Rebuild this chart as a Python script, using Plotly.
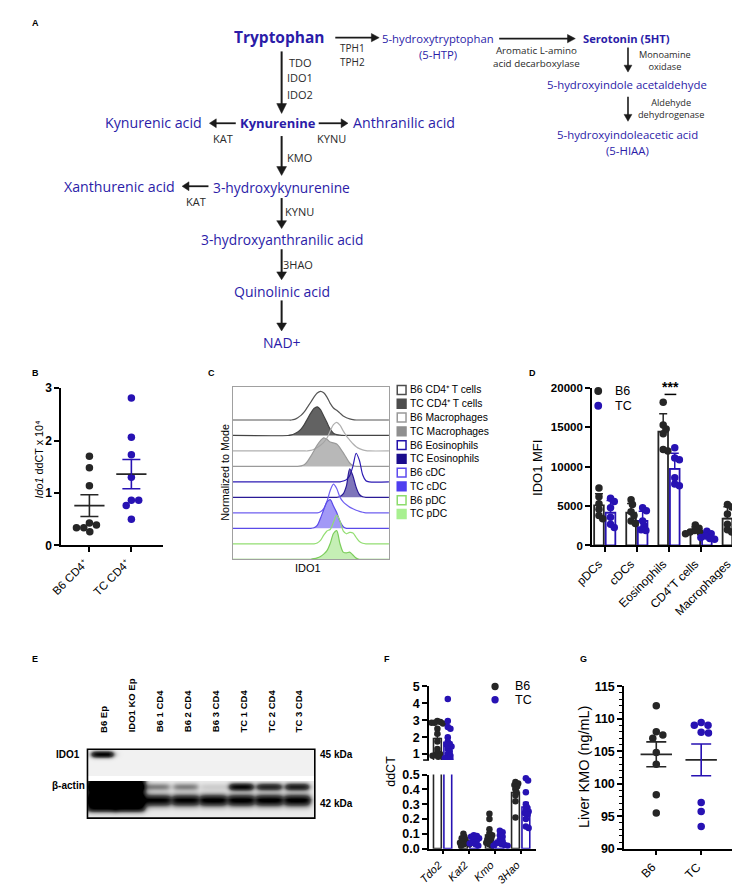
import numpy as np
import plotly.graph_objects as go

W, H = 740, 887
FONT = "Liberation Sans"
PFONT = "Open Sans"
BLK = "#262626"
BLU = "#2712b3"
PBLU = "#2b1ca8"
LBL = "#2a2a2a"

# ---------------- data ----------------
# Panel B : Ido1 ddCT x 10^4
b_groups = ["B6 CD4⁺", "TC CD4⁺"]
b_b6 = [1.70, 1.48, 1.14, 0.43, 0.39, 0.34, 0.34, 0.26]
b_tc = [2.81, 2.06, 1.73, 1.30, 0.86, 0.86, 0.76, 0.50]

# Panel C : IDO1 histograms (% of mode) on a shared IDO1 grid
c_ido1 = [0, 170, 180, 190, 200, 210, 220, 230, 240, 250, 260, 270, 280, 290,
          300, 310, 320, 330, 340, 350, 360, 370, 380, 390, 400, 410, 420, 481]
c_labels = ["B6 CD4⁺ T cells", "TC CD4⁺ T cells", "B6 Macrophages",
            "TC Macrophages", "B6 Eosinophils", "TC Eosinophils", "B6 cDC", "TC cDC",
            "B6 pDC", "TC pDC"]
c_b6_cd4 = [0, 0, 0, 2, 8, 16, 28, 45, 62, 80, 94, 100, 95, 80, 58, 42, 34, 24, 14, 8, 4, 1, 0, 0, 0, 0, 0, 0]
c_tc_cd4 = [0, 0, 2, 6, 12, 22, 38, 58, 78, 94, 100, 90, 68, 45, 22, 8, 3, 1, 0, 0, 0, 0, 0, 0, 0, 0, 0, 0]
c_b6_mac = [0, 0, 0, 0, 0, 0, 0, 0, 2, 6, 12, 20, 30, 45, 70, 92, 100, 90, 70, 52, 38, 25, 15, 8, 4, 1, 0, 0]
c_tc_mac = [0, 0, 0, 0, 0, 2, 6, 18, 35, 55, 75, 90, 100, 95, 85, 82, 78, 65, 48, 30, 12, 3, 0, 0, 0, 0, 0, 0]
c_b6_eos = [0, 0, 0, 0, 0, 0, 0, 0, 0, 0, 0, 0, 0, 0, 0, 0, 0, 0, 3, 8, 22, 55, 100, 75, 25, 4, 0, 0]
c_tc_eos = [0, 0, 0, 0, 0, 0, 0, 0, 0, 0, 0, 0, 0, 0, 0, 0, 0, 3, 12, 40, 100, 75, 35, 10, 2, 0, 0, 0]
c_b6_cdc = [0, 0, 0, 0, 0, 0, 0, 0, 0, 0, 0, 4, 15, 40, 78, 100, 85, 55, 38, 28, 20, 14, 9, 5, 2, 0, 0, 0]
c_tc_cdc = [0, 0, 0, 0, 0, 0, 0, 0, 0, 2, 10, 35, 65, 92, 100, 78, 55, 25, 6, 0, 0, 0, 0, 0, 0, 0, 0, 0]
c_b6_pdc = [0, 0, 0, 0, 0, 0, 0, 0, 0, 0, 3, 12, 30, 45, 50, 75, 100, 80, 45, 35, 40, 38, 22, 8, 2, 0, 0, 0]
c_tc_pdc = [0, 0, 0, 0, 0, 0, 0, 0, 0, 2, 5, 10, 18, 30, 55, 90, 100, 55, 25, 22, 25, 15, 4, 0, 0, 0, 0, 0]

# Panel D : IDO1 MFI
d_cells = ["pDCs", "cDCs", "Eosinophils", "CD4⁺T cells", "Macrophages"]
d_ticks = ["0", "5000", "10000", "15000", "20000"]
d_b6 = [[7300, 6200, 5300, 4600, 3800, 3400],
        [5800, 5200, 4300, 3800, 3100, 2800],
        [18200, 15300, 14800, 14200, 12200, 12000],
        [2600, 2200, 1900, 1700, 1600, 1500],
        [5200, 4900, 4000, 2700, 2000, 1700]]
d_tc = [[6000, 5600, 4800, 3600, 2700, 2300],
        [4800, 4400, 3100, 2500, 2000, 1900],
        [12400, 11100, 10900, 8600, 7800, 7600],
        [1800, 1500, 1200, 1000, 900, 800],
        [4100, 3900, 2600, 2200, 1800, 1500]]

# Panel E : western blot band intensities (0 = none, 1 = saturated)
e_lanes = ["B6 Ep", "IDO1 KO Ep", "B6 1 CD4", "B6 2 CD4", "B6 3 CD4", "TC 1 CD4", "TC 2 CD4", "TC 3 CD4"]
e_ido1 = [0.95, 0, 0, 0, 0, 0, 0, 0]
e_actin_upper = [1.0, 1.0, 0.30, 0.30, 0.08, 0.90, 0.70, 0.75]
e_actin_lower = [1.0, 1.0, 0.95, 0.95, 1.0, 1.0, 1.0, 1.0]
e_actin_smear = [1.0, 1.0, 0, 0, 0, 0, 0, 0]

# Panel F : ddCT
f_genes = ["Tdo2", "Kat2", "Kmo", "3Hao"]
f_b6 = [[2.95, 2.9, 2.85, 2.85, 2.8, 2.5, 2.2, 1.75, 1.3, 1.1, 1.0, 0.95, 0.9, 0.85],
        [0.10, 0.08, 0.07, 0.06, 0.05, 0.04, 0.04, 0.03, 0.03, 0.02],
        [0.235, 0.20, 0.13, 0.10, 0.09, 0.08, 0.07, 0.06, 0.05, 0.04, 0.03, 0.02],
        [0.45, 0.44, 0.43, 0.42, 0.40, 0.38, 0.36, 0.32, 0.21]]
f_tc = [[4.25, 2.95, 2.6, 2.5, 2.0, 1.75, 1.6, 1.55, 1.45, 1.3, 1.15, 1.0, 0.9, 0.8, 0.75, 0.7],
        [0.09, 0.085, 0.08, 0.07, 0.06, 0.05, 0.04, 0.035, 0.03, 0.02],
        [0.12, 0.11, 0.09, 0.08, 0.06, 0.05, 0.04, 0.035, 0.03, 0.025, 0.02, 0.02],
        [0.475, 0.46, 0.38, 0.30, 0.28, 0.26, 0.25, 0.24, 0.23, 0.20, 0.15, 0.14]]

# Panel G : Liver KMO (ng/mL)
g_groups = ["B6", "TC"]
g_b6 = [112.0, 108.0, 107.5, 107.0, 104.8, 103.0, 98.3, 95.5]
g_tc = [109.4, 109.0, 109.0, 107.9, 107.8, 97.1, 95.7, 93.4]

# ---------------- helpers ----------------
def fx(x):
    return x / W


def fy(y):
    return 1 - y / H


annotations = []
shapes = []


def text(x, y, s, size=10, color="black", family=FONT, bold=False, italic=False,
         xanchor="center", yanchor="middle", angle=0):
    annotations.append(dict(
        x=fx(x), y=fy(y), xref="paper", yref="paper", text=s, showarrow=False,
        font=dict(family=family, size=size, color=color,
                  weight="bold" if bold else "normal",
                  style="italic" if italic else "normal"),
        xanchor=xanchor, yanchor=yanchor, textangle=angle, borderpad=0))


def arrow(x0, y0, x1, y1, w=1.8, hl=8.0, hw=4.2, color="#1a1a1a"):
    L = ((x1 - x0) ** 2 + (y1 - y0) ** 2) ** 0.5
    ux, uy = (x1 - x0) / L, (y1 - y0) / L
    bx, by = x1 - ux * hl, y1 - uy * hl
    px_, py_ = -uy, ux
    shapes.append(dict(type="line", xref="paper", yref="paper", x0=fx(x0), y0=fy(y0),
                       x1=fx(bx + ux), y1=fy(by + uy), line=dict(color=color, width=w)))
    path = "M %f %f L %f %f L %f %f Z" % (
        fx(x1), fy(y1), fx(bx + px_ * hw), fy(by + py_ * hw), fx(bx - px_ * hw), fy(by - py_ * hw))
    shapes.append(dict(type="path", xref="paper", yref="paper", path=path,
                       fillcolor=color, line=dict(color=color, width=0.5)))


def swarm(vals, scale_fn, d):
    n = len(vals)
    ys = [scale_fn(v) for v in vals]
    order = sorted(range(n), key=lambda i: -vals[i])
    offs = [0.0] * n
    placed = []
    for i in order:
        y = ys[i]
        cands = [0.0]
        for ox, oy in placed:
            dy = abs(y - oy)
            if dy < d:
                dx = (d * d - dy * dy) ** 0.5
                cands += [ox + dx, ox - dx]
        cands.sort(key=lambda c: (round(abs(c), 6), -c))
        for c in cands:
            if all((c - ox) ** 2 + (y - oy) ** 2 >= d * d - 1e-6 for ox, oy in placed):
                offs[i] = c
                placed.append((c, y))
                break
    return offs


def axis(**kw):
    d = dict(showgrid=False, zeroline=False, showline=True, linecolor="black",
             linewidth=1.5, ticks="outside", ticklen=5, tickwidth=1.5, tickcolor="black",
             tickfont=dict(family=FONT, size=11, color="black"))
    d.update(kw)
    return d


def btick(size):
    return dict(family=FONT, size=size, color="black", weight="bold")


fig = go.Figure()

# ---------------- Panel A : pathway ----------------
text(5, 8, "A", 9, bold=True, xanchor="left")
text(260, 22, "Tryptophan", 15.5, PBLU, PFONT, bold=True)
arrow(317, 23, 362, 23)
text(335, 34, "TPH1", 10, LBL, PFONT)
text(335, 48, "TPH2", 10, LBL, PFONT)
text(422, 24, "5-hydroxytryptophan", 11.3, PBLU, PFONT)
text(422, 40, "(5-HTP)", 11.3, PBLU, PFONT)
arrow(485, 24, 563, 24)
text(523, 42.5, "Aromatic L-amino<br>acid decarboxylase", 9.8, LBL, PFONT)
text(615, 24, "Serotonin (5HT)", 11.2, PBLU, PFONT, bold=True)
arrow(617, 33, 617, 58, 1.6, 7, 4)
text(655, 46, "Monoamine<br>oxidase", 9.2, LBL, PFONT)
text(616, 71, "5-hydroxyindole acetaldehyde", 11.4, PBLU, PFONT)
arrow(617, 83, 617, 108, 1.6, 7, 4)
text(661, 95.5, "Aldehyde<br>dehydrogenase", 9.2, LBL, PFONT)
text(617, 121, "5-hydroxyindoleacetic acid", 11.4, PBLU, PFONT)
text(617, 137.5, "(5-HIAA)", 11.4, PBLU, PFONT)

arrow(262, 37, 262, 100, 2, 10, 5)
text(281, 48, "TDO", 11, LBL, PFONT)
text(281, 64, "IDO1", 11, LBL, PFONT)
text(281, 81, "IDO2", 11, LBL, PFONT)
text(258, 110, "Kynurenine", 13, PBLU, PFONT, bold=True)
text(131, 109, "Kynurenic acid", 14.2, PBLU, PFONT)
arrow(215, 110, 188, 110, 1.8, 7, 4.5)
text(202, 125, "KAT", 11, LBL, PFONT)
arrow(300, 110, 330, 110, 1.8, 7, 4.5)
text(313, 125, "KYNU", 11, LBL, PFONT)
text(387, 109, "Anthranilic acid", 14.2, PBLU, PFONT)
arrow(262, 123, 262, 163, 2, 9, 5)
text(280, 145, "KMO", 11, LBL, PFONT)
text(262, 175, "3-hydroxykynurenine", 13.8, PBLU, PFONT)
text(96, 174, "Xanthurenic acid", 14.2, PBLU, PFONT)
arrow(187, 174, 160, 174, 1.8, 7, 4.5)
text(174, 189, "KAT", 11, LBL, PFONT)
arrow(262, 186, 262, 217, 2, 8, 5)
text(280, 200, "KYNU", 11, LBL, PFONT)
text(262, 228, "3-hydroxyanthranilic acid", 13.8, PBLU, PFONT)
arrow(262, 238, 262, 269, 2, 8, 5)
text(279, 253, "3HAO", 11, LBL, PFONT)
text(262, 281, "Quinolinic acid", 14, PBLU, PFONT)
arrow(262, 290, 262, 321, 2, 8, 5)
text(262, 333, "NAD+", 14, PBLU, PFONT)

# ---------------- Panel B ----------------
text(5, 364, "B", 9, bold=True, xanchor="left")
for i, (vals, col) in enumerate([(b_b6, BLK), (b_tc, BLU)]):
    offs = swarm(vals, lambda v: v * 160 / 3, 7.5)
    fig.add_trace(go.Scatter(x=[i + o / 43 for o in offs], y=vals, mode="markers",
                             marker=dict(size=7.5, color=col), xaxis="x", yaxis="y"))
    m = float(np.mean(vals))
    se = float(np.std(vals, ddof=1) / np.sqrt(len(vals)))
    fig.add_trace(go.Scatter(x=[i - 0.36, i + 0.36], y=[m, m], mode="lines",
                             line=dict(color=BLK, width=1.6), xaxis="x", yaxis="y"))
    fig.add_trace(go.Scatter(x=[i], y=[m], mode="markers",
                             marker=dict(size=1, color="rgba(0,0,0,0)"),
                             error_y=dict(type="data", array=[se], visible=True, color=col,
                                          thickness=1.6, width=9),
                             xaxis="x", yaxis="y"))
text(13, 451, "<i>Ido1</i> ddCT x 10⁴", 10.8, angle=-90)

# ---------------- Panel C ----------------
text(186, 364, "C", 9, bold=True, xanchor="left")
c_series = [c_b6_cd4, c_tc_cd4, c_b6_mac, c_tc_mac, c_b6_eos, c_tc_eos,
            c_b6_cdc, c_tc_cdc, c_b6_pdc, c_tc_pdc]
c_line = ["#555555", "#444444", "#b0b0b0", "#9a9a9a", "#2d1bb4", "#2a1a96",
          "#6f5ff0", "#5a4ae8", "#93de72", "#7ccd5c"]
c_fill = [None, "rgba(70,70,70,0.85)", None, "rgba(160,160,160,0.75)", None,
          "rgba(40,25,140,0.6)", None, "rgba(100,85,240,0.6)", None,
          "rgba(150,225,120,0.55)"]
c_leg = ["#4d4d4d", "#4d4d4d", "#999999", "#8f8f8f", "#2211aa", "#1a0c8c",
         "#5d4bef", "#4f3ff0", "#8cdc6c", "#a8f090"]
n_c = len(c_series)
for k, series in enumerate(c_series):
    off = n_c - 1 - k
    yv = [off + p / 100 * 1.85 for p in series]
    tr = dict(x=c_ido1, y=yv, mode="lines", line=dict(color=c_line[k], width=1.2, shape="spline",
                                                         smoothing=0.8),
              xaxis="x2", yaxis="y2")
    if c_fill[k]:
        tr.update(fill="toself", fillcolor=c_fill[k])
    fig.add_trace(go.Scatter(**tr))
for k, lab in enumerate(c_labels):
    yc = 381 + 14 * k
    filled = c_fill[k] is not None
    shapes.append(dict(type="rect", xref="paper", yref="paper", x0=fx(380.5), x1=fx(389.5),
                       y0=fy(yc + 4.5), y1=fy(yc - 4.5),
                       fillcolor=c_leg[k] if filled else "white",
                       line=dict(color=c_leg[k], width=1.5)))
    text(393, yc, lab, 10.3, xanchor="left")
text(204, 465, "Normalized to Mode", 10.8, angle=-90)
text(289, 562, "IDO1", 11)

# ---------------- Panel D ----------------
text(515, 364, "D", 9, bold=True, xanchor="left")
for j, (groups, col, sh) in enumerate([(d_b6, BLK, -0.18), (d_tc, BLU, 0.18)]):
    means = [float(np.mean(g)) for g in groups]
    sds = [float(np.std(g, ddof=1)) for g in groups]
    fig.add_trace(go.Bar(x=[i + sh for i in range(len(groups))], y=means, width=0.3,
                         marker=dict(color="rgba(0,0,0,0)", line=dict(color=col, width=1.8)),
                         error_y=dict(type="data", symmetric=False, array=sds,
                                      arrayminus=[0] * len(sds), color=col, thickness=1.5, width=4),
                         xaxis="x3", yaxis="y3"))
    for i, g in enumerate(groups):
        offs = swarm(g, lambda v: v * 0.008, 5.0)
        fig.add_trace(go.Scatter(x=[i + sh + o / 32.9 for o in offs], y=g, mode="markers",
                                 marker=dict(size=7.5, color=col), xaxis="x3", yaxis="y3"))
text(661, 378, "***", 14, bold=True)
shapes.append(dict(type="line", xref="paper", yref="paper", x0=fx(654.5), x1=fx(666.5),
                   y0=fy(385.5), y1=fy(385.5), line=dict(color="black", width=1.5)))
shapes.append(dict(type="circle", xref="paper", yref="paper", x0=fx(582.5), x1=fx(590.5),
                   y0=fy(386), y1=fy(378), fillcolor=BLK, line=dict(width=0)))
shapes.append(dict(type="circle", xref="paper", yref="paper", x0=fx(582.5), x1=fx(590.5),
                   y0=fy(401), y1=fy(393), fillcolor=BLU, line=dict(width=0)))
text(603, 382, "B6", 12.5, xanchor="left")
text(603, 397, "TC", 12.5, xanchor="left")
text(525, 460, "IDO1 MFI", 13, angle=-90)

# ---------------- Panel E ----------------
text(5, 654, "E", 9, bold=True, xanchor="left")
xs = np.linspace(-0.52, 7.62, 233)
ys = np.arange(70) + 0.5
X, Y = np.meshgrid(xs, ys)


def hprof(c, hw, s=0.06):
    return 1 / (1 + np.exp((np.abs(X - c) - hw) / s))


def vprof(y0, sig):
    return np.exp(-0.5 * ((Y - y0) / sig) ** 2)


Z = np.zeros_like(X)
Z[Y < 27] = 0.04
Z[Y >= 32] = 0.06
smear_v = (1 / (1 + np.exp((Y - 63) / 1.5))) * (Y >= 32)
for i in range(len(e_lanes)):
    Z += e_ido1[i] * hprof(i + 0.03, 0.38) * vprof(5.5, 2.3)
    Z += e_actin_upper[i] * hprof(i, 0.42) * vprof(38, 2.6) * (Y >= 32)
    Z += e_actin_lower[i] * hprof(i, 0.46) * vprof(52, 4.2)
    Z += e_actin_smear[i] * hprof(i, 0.52) * smear_v
Z = np.clip(Z, 0, 1)
Z[(Y >= 27) & (Y < 32)] = 0
fig.add_trace(go.Heatmap(z=Z, x=xs, y=ys, colorscale=[[0, "#ffffff"], [0.5, "#505050"], [1, "#000000"]],
                         zmin=0, zmax=1, showscale=False, hoverinfo="skip",
                         xaxis="x4", yaxis="y4"))
shapes.append(dict(type="rect", xref="paper", yref="paper", x0=fx(63), x1=fx(296),
                   y0=fy(816), y1=fy(746), line=dict(color="black", width=1.6)))
for i, lane in enumerate(e_lanes):
    lx = 63 + (i + 0.52) / 8.14 * 233
    text(lx + 2, 730, lane, 9.5, bold=True, angle=-90, yanchor="bottom")
text(56, 751, "IDO1", 10, bold=True, xanchor="right")
text(62, 783, "β-actin", 10, bold=True, xanchor="right")
text(300, 751, "45 kDa", 10, bold=True, xanchor="left")
text(300, 801, "42 kDa", 10, bold=True, xanchor="left")

# ---------------- Panel F ----------------
text(366, 654, "F", 9, bold=True, xanchor="left")
F_BREAK_LO, F_BREAK_HI = 0.5, 0.65


def f_px(v):
    if v >= 0.6:
        return -(v - 0.65) * 17.17 - 14
    return -v * 150.6


for j, (groups, col, sh) in enumerate([(f_b6, BLK, -0.2), (f_tc, BLU, 0.2)]):
    means = [float(np.mean(g)) for g in groups]
    sems = [float(np.std(g, ddof=1) / np.sqrt(len(g))) for g in groups]
    xb = [i + sh for i in range(len(groups))]
    # bottom segment: every bar (tall bars clipped), error bars only where visible
    fig.add_trace(go.Bar(x=xb, y=means, width=0.3,
                         marker=dict(color="rgba(0,0,0,0)", line=dict(color=col, width=1.6)),
                         error_y=dict(type="data", symmetric=False,
                                      array=[s if m < F_BREAK_LO else 0 for m, s in zip(means, sems)],
                                      arrayminus=[0] * len(sems), color=col, thickness=1.4, width=3),
                         xaxis="x5", yaxis="y5"))
    # top segment: only bars reaching above the break
    top_means = [m if m > F_BREAK_HI else None for m in means]
    fig.add_trace(go.Bar(x=xb, y=top_means, width=0.3,
                         marker=dict(color="rgba(0,0,0,0)", line=dict(color=col, width=1.6)),
                         error_y=dict(type="data", symmetric=False,
                                      array=[s if m > F_BREAK_HI else 0 for m, s in zip(means, sems)],
                                      arrayminus=[0] * len(sems), color=col, thickness=1.4, width=3),
                         xaxis="x6", yaxis="y6"))
    for i, g in enumerate(groups):
        offs = swarm(g, f_px, 3.2)
        xv = [i + sh + o / 26.7 for o in offs]
        lo = [(x, v) for x, v in zip(xv, g) if v < 0.55]
        hi = [(x, v) for x, v in zip(xv, g) if v >= 0.6]
        for pts, xa, ya in [(lo, "x5", "y5"), (hi, "x6", "y6")]:
            if pts:
                fig.add_trace(go.Scatter(x=[p[0] for p in pts], y=[p[1] for p in pts],
                                         mode="markers", marker=dict(size=6.5, color=col),
                                         xaxis=xa, yaxis=ya))
shapes.append(dict(type="line", xref="paper", yref="paper", x0=fx(407), x1=fx(413),
                   y0=fy(757), y1=fy(757), line=dict(color="black", width=1.5)))
shapes.append(dict(type="circle", xref="paper", yref="paper", x0=fx(477), x1=fx(484.5),
                   y0=fy(686), y1=fy(678.5), fillcolor=BLK, line=dict(width=0)))
shapes.append(dict(type="circle", xref="paper", yref="paper", x0=fx(477), x1=fx(484.5),
                   y0=fy(699.5), y1=fy(692), fillcolor=BLU, line=dict(width=0)))
text(500, 682, "B6", 12.5, xanchor="left")
text(500, 696, "TC", 12.5, xanchor="left")
text(374, 768, "ddCT", 12.5, angle=-90)

# ---------------- Panel G ----------------
text(567, 654, "G", 9, bold=True, xanchor="left")
for i, (vals, col) in enumerate([(g_b6, BLK), (g_tc, BLU)]):
    offs = swarm(vals, lambda v: v * 6.6, 7.5)
    fig.add_trace(go.Scatter(x=[i + o / 46 for o in offs], y=vals, mode="markers",
                             marker=dict(size=7.5, color=col), xaxis="x7", yaxis="y7"))
    m = float(np.mean(vals))
    se = float(np.std(vals, ddof=1) / np.sqrt(len(vals)))
    fig.add_trace(go.Scatter(x=[i - 0.35, i + 0.35], y=[m, m], mode="lines",
                             line=dict(color=BLK, width=1.6), xaxis="x7", yaxis="y7"))
    fig.add_trace(go.Scatter(x=[i], y=[m], mode="markers",
                             marker=dict(size=1, color="rgba(0,0,0,0)"),
                             error_y=dict(type="data", array=[se], visible=True, color=col,
                                          thickness=1.6, width=10),
                             xaxis="x7", yaxis="y7"))
text(572, 764, "Liver KMO (ng/mL)", 14.5, angle=-90)

# ---------------- layout ----------------
fig.update_layout(
    width=W, height=H, margin=dict(l=0, r=0, t=0, b=0),
    paper_bgcolor="white", plot_bgcolor="white", showlegend=False,
    barmode="overlay",
    # B
    xaxis=axis(domain=[fx(36), fx(140)], range=[-0.674, 1.744], tickvals=[0, 1],
               ticktext=b_groups, tickangle=-45, anchor="y", ticklabelshift=-5,
               tickfont=dict(family=FONT, size=11.5, color="black")),
    yaxis=axis(domain=[fy(539), fy(379)], range=[0, 3], tickvals=[0, 1, 2, 3],
               tickfont=btick(12), anchor="x"),
    # C
    xaxis2=dict(domain=[fx(212), fx(372)], range=[0, 481], showgrid=False, zeroline=False,
                showticklabels=False, ticks="", showline=True, mirror=True,
                linecolor="#a0a0a0", linewidth=1, anchor="y2"),
    yaxis2=dict(domain=[fy(553), fy(378)], range=[0, 11.13], showgrid=False, zeroline=False,
                showticklabels=False, ticks="", showline=True, mirror=True,
                linecolor="#a0a0a0", linewidth=1, anchor="x2"),
    # D
    xaxis3=axis(domain=[fx(580), fx(738)], range=[-0.4, 4.4], tickvals=list(range(5)),
                ticktext=d_cells, tickangle=-45, anchor="y3", ticklabelshift=-6,
                tickfont=dict(family=FONT, size=12, color="black")),
    yaxis3=axis(domain=[fy(539), fy(379)], range=[0, 20000],
                tickvals=[0, 5000, 10000, 15000, 20000], ticktext=d_ticks,
                tickfont=btick(11.5), anchor="x3"),
    # E
    xaxis4=dict(domain=[fx(63), fx(296)], range=[-0.52, 7.62], visible=False, anchor="y4"),
    yaxis4=dict(domain=[fy(816), fy(746)], range=[70, 0], visible=False, anchor="x4"),
    # F bottom
    xaxis5=axis(domain=[fx(413), fx(523)], range=[-0.524, 3.6], tickvals=list(range(4)),
                ticktext=["<i>%s</i>" % g for g in f_genes], tickangle=-45, anchor="y5",
                ticklen=4, ticklabelshift=-4,
                tickfont=dict(family=FONT, size=11, color="black")),
    yaxis5=axis(domain=[fy(847), fy(771.7)], range=[0, 0.5],
                tickvals=[0, 0.1, 0.2, 0.3, 0.4, 0.5], tickformat=".1f",
                tickfont=btick(12.5), anchor="x5"),
    # F top
    xaxis6=dict(domain=[fx(413), fx(523)], range=[-0.524, 3.6], showline=False,
                showticklabels=False, ticks="", showgrid=False, zeroline=False, anchor="y6"),
    yaxis6=axis(domain=[fy(757), fy(682)], range=[0.65, 5], tickvals=[1, 2, 3, 4, 5],
                tickfont=btick(12.5), anchor="x6"),
    # G
    xaxis7=axis(domain=[fx(613), fx(725)], range=[-0.717, 1.717], tickvals=[0, 1],
                ticktext=g_groups, tickangle=-45, anchor="y7", ticklabelshift=-4,
                tickfont=dict(family=FONT, size=12, color="black")),
    yaxis7=axis(domain=[fy(847), fy(682)], range=[90, 115],
                tickvals=[90, 95, 100, 105, 110, 115], tickfont=btick(12.5), anchor="x7",
                minor=dict(dtick=1, ticks="outside", ticklen=3, tickwidth=1.2, tickcolor="black")),
    annotations=annotations,
    shapes=shapes,
)

fig.write_html("out.html")
